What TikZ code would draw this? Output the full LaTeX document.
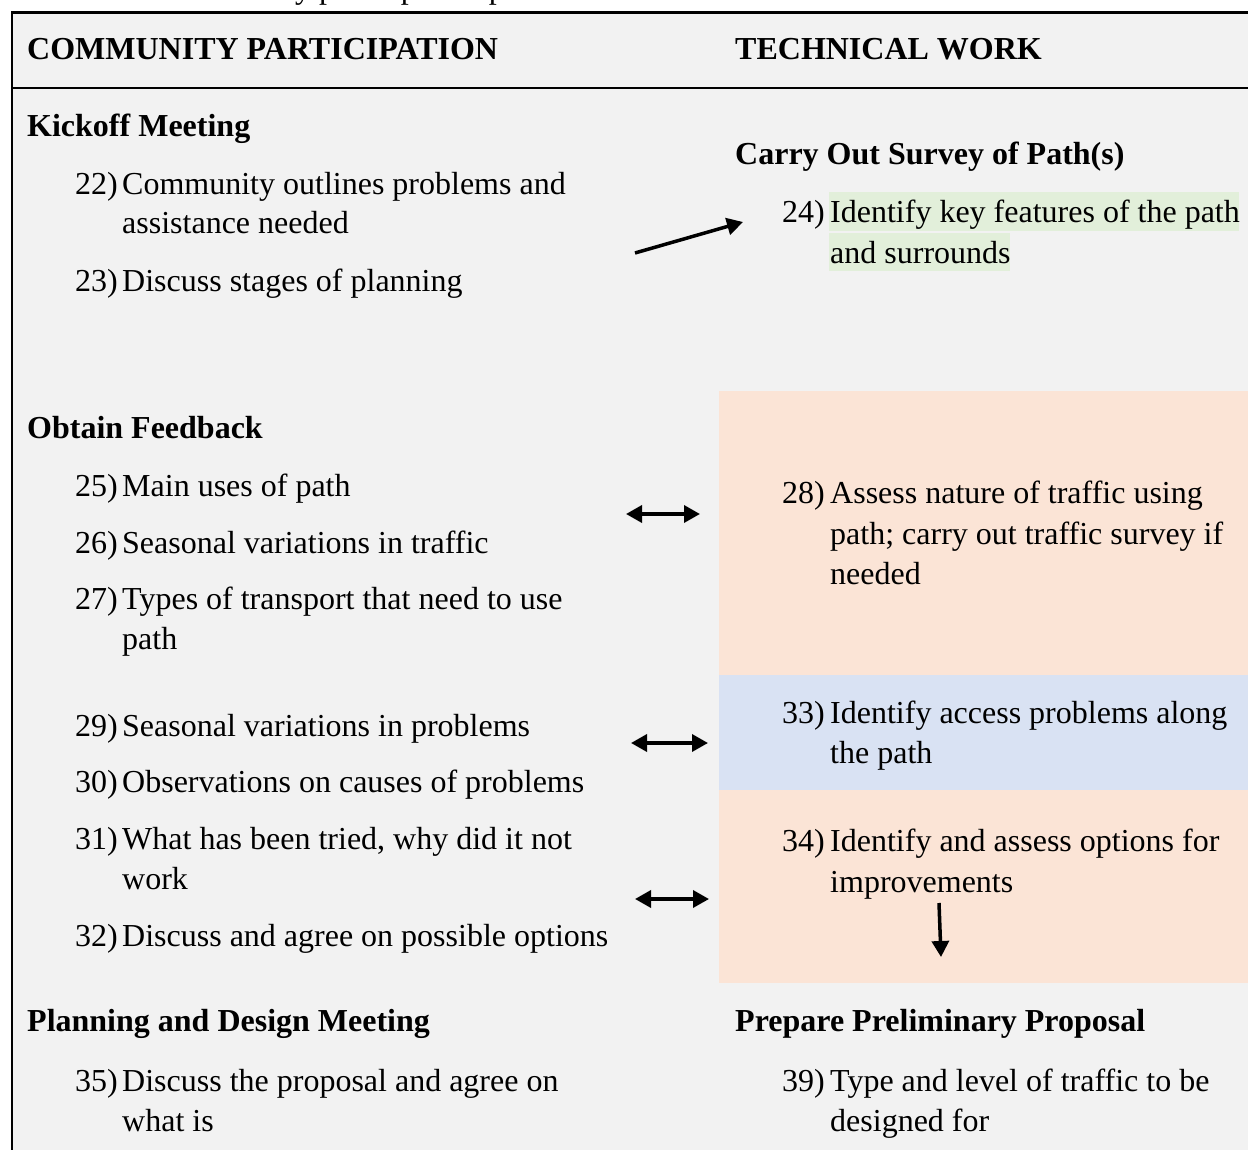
\documentclass[tikz,border=0pt]{standalone}
\usepackage{fontspec}
\setmainfont{Liberation Serif}
\usetikzlibrary{arrows.meta}
\definecolor{cellgray}{HTML}{F2F2F2}
\definecolor{peach}{HTML}{FBE4D6}
\definecolor{paleblue}{HTML}{D9E2F3}
\definecolor{palegreen}{HTML}{E2EFDA}

\tikzset{
  txt/.style={anchor=base west, inner sep=0pt, font=\fontsize{32}{40}\selectfont},
  head/.style={txt, font=\fontsize{32}{40}\selectfont\bfseries},
  rule/.style={line width=2.2pt, line cap=rect},
  flow/.style={line width=3.5pt, -{Triangle[length=16pt,width=17pt]}},
  twoway/.style={line width=3.5pt, {Triangle[length=16pt,width=17pt]}-{Triangle[length=16pt,width=17pt]}},
}

\begin{document}
\begin{tikzpicture}[x=1pt,y=-1pt]
\useasboundingbox (0,0) rectangle (1248,1150);

% caption line above the table (cut off by the page edge)
\begin{scope}
  \clip (0,0) rectangle (1248,11);
  \node[txt] (caption) at (158,-1) {Community participation process};
\end{scope}

% table body and shaded cells
\fill[cellgray] (12,12) rectangle (1248,1150);
\fill[peach] (719,391) rectangle (1248,675);
\fill[paleblue] (719,675) rectangle (1248,790);
\fill[peach] (719,790) rectangle (1248,983);

% table rules
\draw[rule] (12,12.5) -- (1250,12.5);
\draw[rule] (12,12.5) -- (12,1152);
\draw[rule] (12,88) -- (1250,88);

\begin{scope}[yshift=-1.5pt]
% column headings
\node[head] (hcp) at (27,58) {COMMUNITY PARTICIPATION};
\node[head] (htw) at (735,58) {TECHNICAL WORK};

% ---- kickoff meeting ----
\node[head] (kick) at (27,135) {Kickoff Meeting};
\node[txt] (n22) at (75,193) {22)};
\node[txt] (t22a) at (122,193) {Community outlines problems and};
\node[txt] (t22b) at (122,232) {assistance needed};
\node[txt] (n23) at (75,290) {23)};
\node[txt] (t23) at (122,290) {Discuss stages of planning};

% ---- survey of paths ----
\node[head] (survey) at (735,163) {Carry Out Survey of Path(s)};
\fill[palegreen] (829,191) rectangle (1239,230);
\fill[palegreen] (829,232) rectangle (1010,270);
\node[txt] (n24) at (782,221) {24)};
\node[txt] (t24a) at (830,221) {Identify key features of the path};
\node[txt] (t24b) at (830,262) {and surrounds};

% ---- obtain feedback ----
\node[head] (feed) at (27,437) {Obtain Feedback};
\node[txt] (n25) at (75,495) {25)};
\node[txt] (t25) at (122,495) {Main uses of path};
\node[txt] (n26) at (75,552) {26)};
\node[txt] (t26) at (122,552) {Seasonal variations in traffic};
\node[txt] (n27) at (75,608) {27)};
\node[txt] (t27a) at (122,608) {Types of transport that need to use};
\node[txt] (t27b) at (122,648) {path};

\node[txt] (n28) at (782,502) {28)};
\node[txt] (t28a) at (830,502) {Assess nature of traffic using};
\node[txt] (t28b) at (830,543) {path; carry out traffic survey if};
\node[txt] (t28c) at (830,583) {needed};

\node[txt] (n29) at (75,735) {29)};
\node[txt] (t29) at (122,735) {Seasonal variations in problems};
\node[txt] (n30) at (75,791) {30)};
\node[txt] (t30) at (122,791) {Observations on causes of problems};
\node[txt] (n31) at (75,848) {31)};
\node[txt] (t31a) at (122,848) {What has been tried, why did it not};
\node[txt] (t31b) at (122,888) {work};
\node[txt] (n32) at (75,945) {32)};
\node[txt] (t32) at (122,945) {Discuss and agree on possible options};

\node[txt] (n33) at (782,722) {33)};
\node[txt] (t33a) at (830,722) {Identify access problems along};
\node[txt] (t33b) at (830,762) {the path};

\node[txt] (n34) at (782,850) {34)};
\node[txt] (t34a) at (830,850) {Identify and assess options for};
\node[txt] (t34b) at (830,891) {improvements};

% ---- planning and design ----
\node[head] (plan) at (27,1030) {Planning and Design Meeting};
\node[txt] (n35) at (75,1090) {35)};
\node[txt] (t35a) at (122,1090) {Discuss the proposal and agree on};
\node[txt] (t35b) at (122,1130) {what is};

\node[head] (prep) at (735,1030) {Prepare Preliminary Proposal};
\node[txt] (n39) at (782,1090) {39)};
\node[txt] (t39a) at (830,1090) {Type and level of traffic to be};
\node[txt] (t39b) at (830,1130) {designed for};
\end{scope}

% connector end points
\coordinate (kickout) at (635,253);
\coordinate (surveyin) at (743,222);
\coordinate (fbL) at (626,514);
\coordinate (fbR) at (700,514);
\coordinate (prL) at (631,743);
\coordinate (prR) at (708,743);
\coordinate (opL) at (635,899);
\coordinate (opR) at (709,899);
\coordinate (optop) at (939,903);
\coordinate (optip) at (941,957);

% connectors
\draw[flow] (kickout) -- (surveyin);
\draw[twoway] (fbL) -- (fbR);
\draw[twoway] (prL) -- (prR);
\draw[twoway] (opL) -- (opR);
\draw[flow] (optop) -- (optip);
\end{tikzpicture}
\end{document}
